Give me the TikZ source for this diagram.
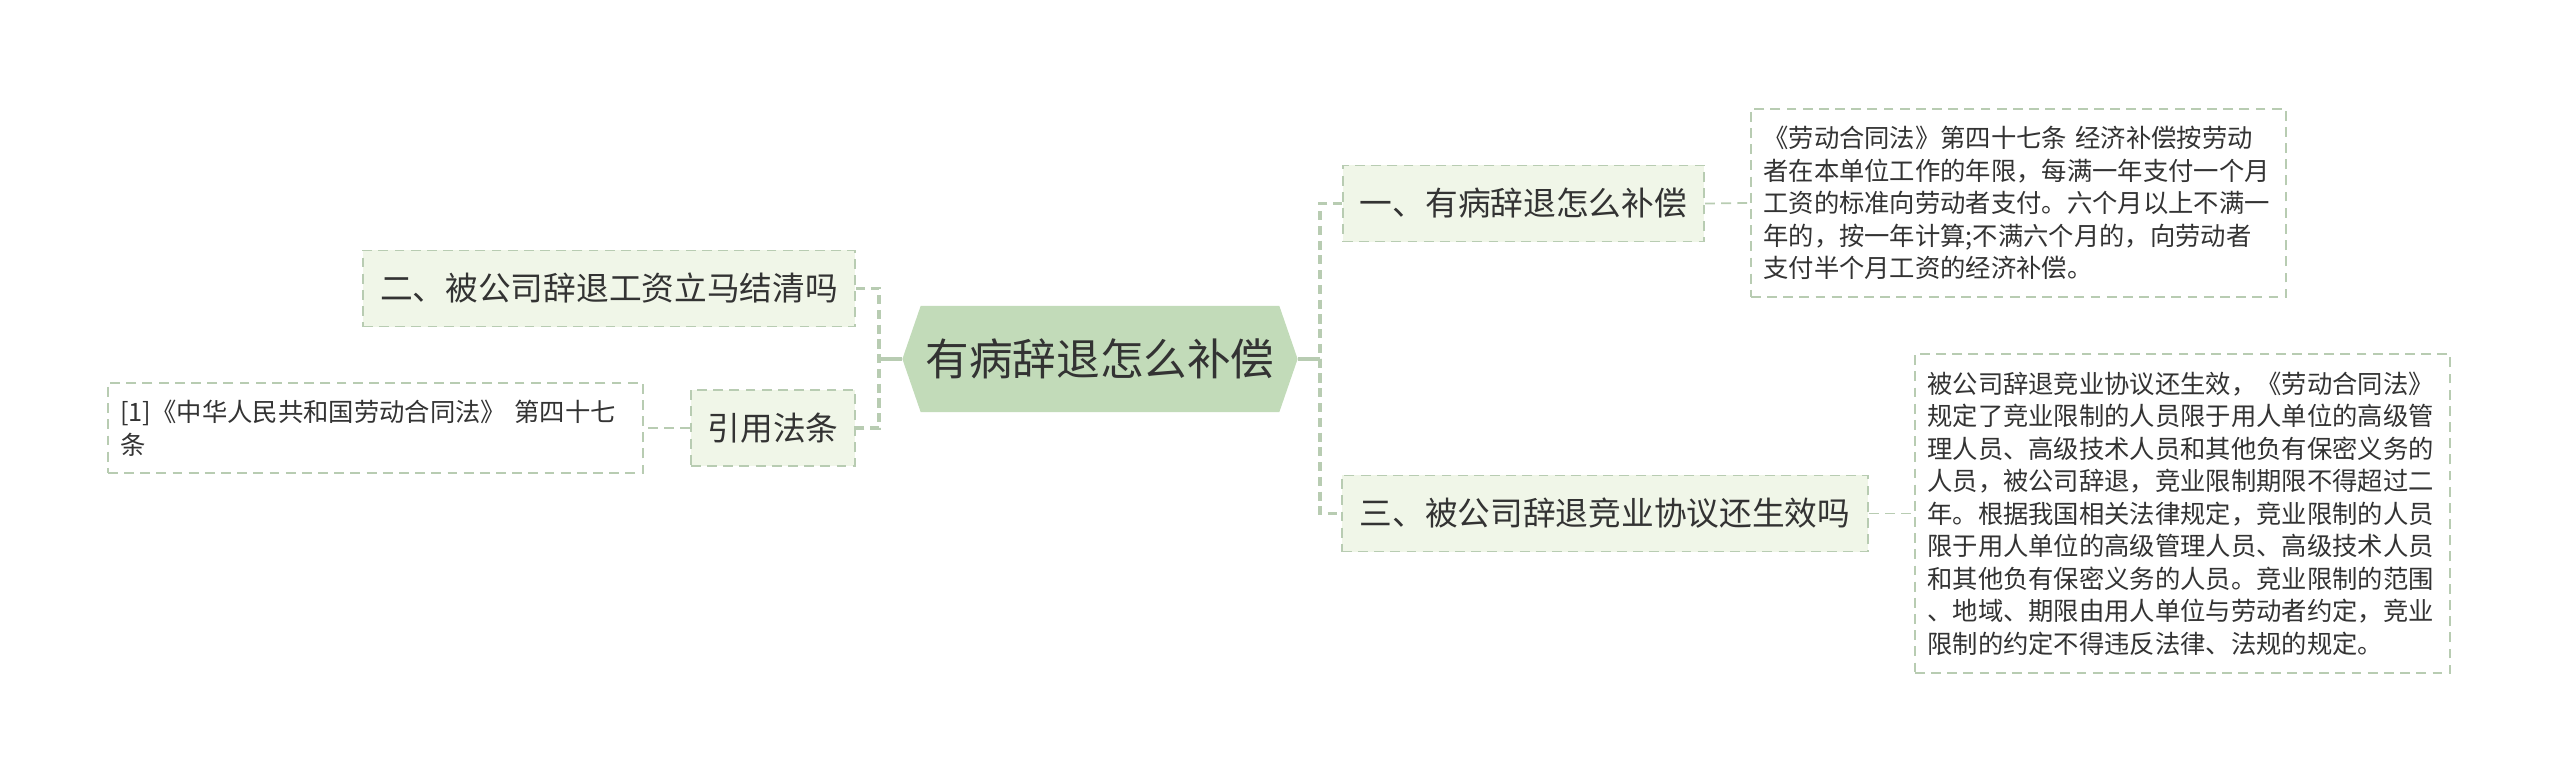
\documentclass[tikz,border=0pt]{standalone}
\usepackage{fontspec}
\setmainfont{Noto Sans CJK SC}
\usetikzlibrary{shapes.symbols}
\definecolor{rootfill}{RGB}{194,219,185}
\definecolor{topicfill}{RGB}{240,246,232}
\definecolor{edgegreen}{RGB}{184,204,178}
\definecolor{inkgray}{RGB}{51,51,51}

\begin{document}
\begin{tikzpicture}[x=0.01cm, y=-0.01cm,
	every node/.style={text=inkgray, inner sep=0pt},
	root/.style={shape=signal, signal to=west and east, signal pointer angle=142, fill=rootfill, minimum width=3.95cm, minimum height=1.06cm, font=\fontsize{12.4}{15}\selectfont},
	topic/.style={draw=edgegreen, line width=0.5pt, dash pattern=on 2.8pt off 1.8pt, fill=topicfill, minimum height=0.76cm, font=\fontsize{9.3}{11}\selectfont},
	leaf/.style={draw=edgegreen, line width=0.5pt, dash pattern=on 2.8pt off 1.8pt, fill=white, text width=5.1cm, inner xsep=0.125cm, align=left, font=\fontsize{7.2}{9.25}\selectfont},
	spine/.style={draw=edgegreen, line width=0.9pt, dash pattern=on 2.6pt off 1.6pt},
	twig/.style={draw=edgegreen, line width=0.5pt, dash pattern=on 2.8pt off 1.8pt}]
	\useasboundingbox (0,0) rectangle (2560,783);
	\node[root] (root) at (1100,359) {有病辞退怎么补偿};
	\node[topic, minimum width=4.92cm] (q2) at (609,288.5) {二、被公司辞退工资立马结清吗};
	\node[topic, minimum width=1.64cm] (law) at (773,428) {引用法条};
	\node[leaf, minimum height=0.90cm] (lawtext) at (375.5,428) {[1]《中华人民共和国劳动合同法》 第四十七\\条};
	\node[topic, minimum width=3.61cm] (q1) at (1523.5,203.5) {一、有病辞退怎么补偿};
	\node[leaf, minimum height=1.88cm] (a1) at (2018.5,203) {《劳动合同法》第四十七条 经济补偿按劳动\\者在本单位工作的年限，每满一年支付一个月\\工资的标准向劳动者支付。六个月以上不满一\\年的，按一年计算;不满六个月的，向劳动者\\支付半个月工资的经济补偿。};
	\node[topic, minimum width=5.26cm] (q3) at (1605,513.5) {三、被公司辞退竞业协议还生效吗};
	\node[leaf, minimum height=3.19cm] (a3) at (2182.5,513.5) {被公司辞退竞业协议还生效，《劳动合同法》\\规定了竞业限制的人员限于用人单位的高级管\\理人员、高级技术人员和其他负有保密义务的\\人员，被公司辞退，竞业限制期限不得超过二\\年。根据我国相关法律规定，竞业限制的人员\\限于用人单位的高级管理人员、高级技术人员\\和其他负有保密义务的人员。竞业限制的范围\\、地域、期限由用人单位与劳动者约定，竞业\\限制的约定不得违反法律、法规的规定。};
	\coordinate (lj) at (879,359);
	\coordinate (rj) at (1320,359);
	\draw[edgegreen, line width=0.9pt] (root.west) -- (lj);
	\draw[edgegreen, line width=0.9pt] (root.east) -- (rj);
	\draw[spine] (q2.east) -| (lj) |- (law.east);
	\draw[spine] (q1.west) -| (rj) |- (q3.west);
	\draw[twig] (law.west) -- (lawtext.east);
	\draw[twig] (q1.east) -- (a1.west);
	\draw[twig] (q3.east) -- (a3.west);
\end{tikzpicture}
\end{document}
